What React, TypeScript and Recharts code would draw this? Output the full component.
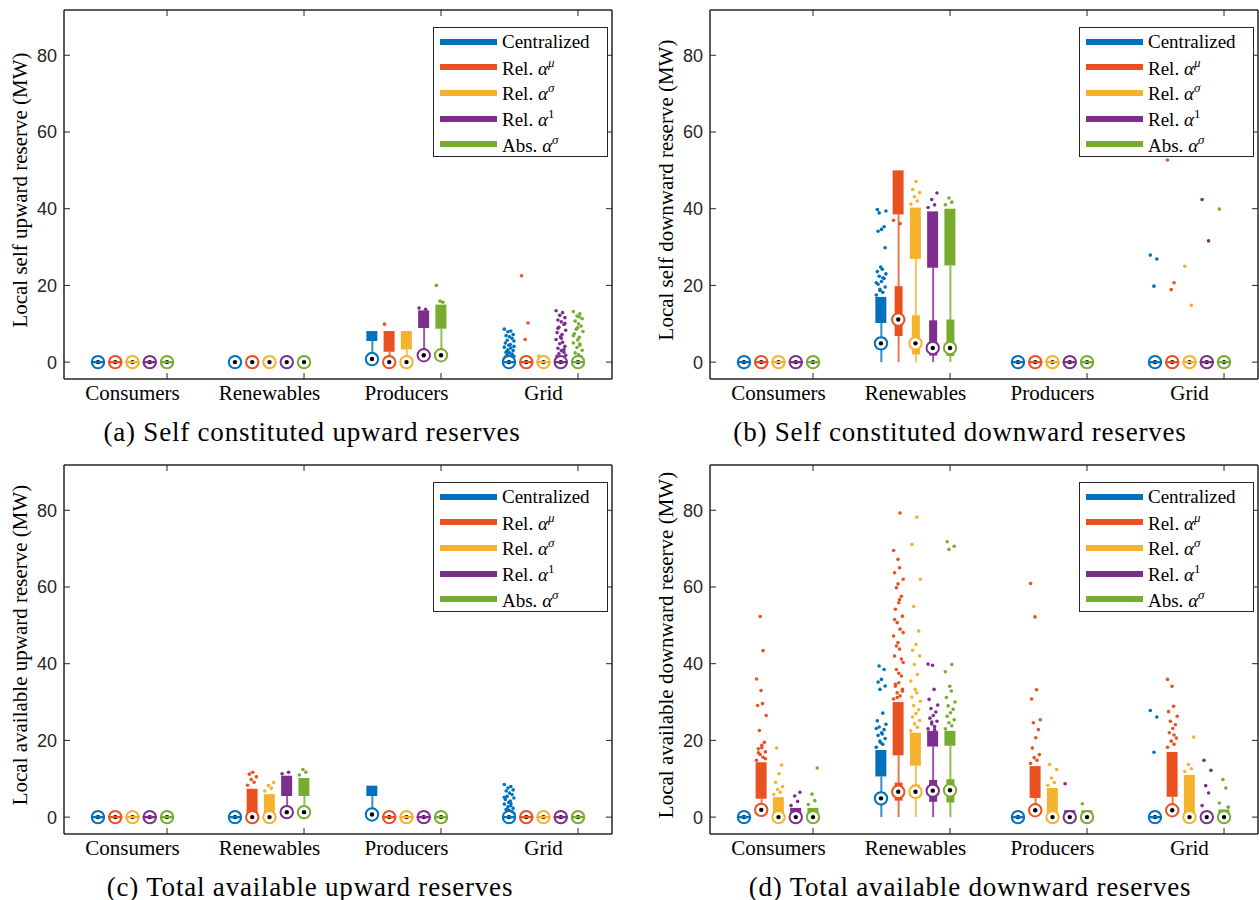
import React from "react";
import { ComposedChart, Bar, Scatter, XAxis, YAxis, Cell, ReferenceArea } from "recharts";

type Range = [number, number] | null;
const N = null;
const Z: Range = [0, 0]; // band of jittered points sitting at zero

const CATEGORIES = ["Consumers", "Renewables", "Producers", "Grid"];
const SERIES_NAMES = ["Centralized", "Rel.", "Rel.", "Rel.", "Abs."];
const SERIES_SUP = ["", "μ", "σ", "1", "σ"];
const COLORS = ["#0072BD", "#EA5120", "#F5B22C", "#7E2F8E", "#77AC30"];
const Y_TICKS = [0, 20, 40, 60, 80];

// (a) self constituted upward reserves  [series][category]
const A_MEDIAN = [
  [0, 0, 0.8, 0],
  [0, 0, 0, 0],
  [0, 0, 0, 0],
  [0, 0, 1.8, 0],
  [0, 0, 1.8, 0],
];
const A_BOX: Range[][] = [
  [N, N, N, N],
  [N, N, N, N],
  [N, N, N, N],
  [N, N, N, N],
  [N, N, N, N],
];
const A_WHISKER: Range[][] = [
  [N, N, [0.8, 5.5], N],
  [N, N, [0, 2.7], N],
  [N, N, [0, 3.3], N],
  [N, N, [1.8, 8.9], N],
  [N, N, [1.8, 8.7], N],
];
const A_DENSE: Range[][] = [
  [Z, N, [5.5, 8.1], Z],
  [Z, N, [2.7, 8.1], Z],
  [Z, N, [3.3, 8.1], Z],
  [Z, N, [8.9, 13.5], Z],
  [Z, N, [8.7, 15.0], Z],
];
const A_OUTLIERS: number[][][] = [
  [[], [], [], [8.6, 8.1, 7.9, 7.2, 6.9, 6.6, 6.2, 5.7, 5.5, 5.0, 4.6, 4.4, 3.9, 3.7, 3.2, 3.0, 2.6, 2.4, 2.1, 1.9, 1.5, 1.3, 1.1, 0.9, 0.8, 0.6, 0.5, 0.4, 0.3, 0.2, 1.7, 2.9, 4.1]],
  [[], [], [9.9], [22.5, 10.2, 5.9]],
  [[], [], [], [1.6]],
  [[], [], [14.1, 13.8], [13.4, 12.9, 12.2, 11.6, 11.0, 10.5, 9.8, 9.1, 8.3, 7.7, 7.2, 6.6, 5.9, 5.2, 4.8, 4.1, 3.6, 3.0, 2.6, 2.2, 1.8, 1.5, 1.2, 0.9, 0.7, 0.5, 0.3, 10.1, 8.8, 6.2, 3.3]],
  [[], [], [20.0, 15.6, 15.9], [13.2, 12.6, 12.0, 11.3, 10.7, 10.0, 9.4, 8.6, 8.0, 7.4, 6.5, 5.8, 5.0, 4.4, 3.8, 3.1, 2.4, 1.9, 1.4, 1.0, 0.6, 0.4, 11.8, 9.0, 6.9, 4.7]],
];

// (b) self constituted downward reserves
const B_MEDIAN = [
  [0, 4.9, 0, 0],
  [0, 11.1, 0, 0],
  [0, 4.9, 0, 0],
  [0, 3.7, 0, 0],
  [0, 3.7, 0, 0],
];
const B_BOX: Range[][] = [
  [N, [3.5, 6.5], N, N],
  [N, [6.8, 19.8], N, N],
  [N, [2.0, 12.2], N, N],
  [N, [1.7, 10.9], N, N],
  [N, [1.6, 11.1], N, N],
];
const B_WHISKER: Range[][] = [
  [N, [0, 10.2], N, N],
  [N, [0, 38.5], N, N],
  [N, [0, 26.9], N, N],
  [N, [0, 24.6], N, N],
  [N, [0, 25.2], N, N],
];
const B_DENSE: Range[][] = [
  [Z, [10.2, 17.0], Z, Z],
  [Z, [38.5, 50.0], Z, Z],
  [Z, [26.9, 40.3], Z, Z],
  [Z, [24.6, 39.3], Z, Z],
  [Z, [25.2, 40.0], Z, Z],
];
const B_OUTLIERS: number[][][] = [
  [[], [17.5, 18.2, 19.0, 19.6, 20.3, 21.0, 21.8, 22.4, 23.0, 23.6, 24.2, 24.8, 20.7, 22.0, 18.7, 29.8, 34.1, 34.6, 35.3, 38.9, 39.4, 39.8], [], [27.9, 26.9, 19.8]],
  [[], [37.0, 36.1], [], [52.7, 20.7, 18.9]],
  [[], [41.2, 42.0, 43.1, 44.2, 45.0, 47.1], [], [25.0, 14.8]],
  [[], [40.3, 41.0, 42.4, 44.1], [], [42.4, 31.6]],
  [[], [41.0, 41.7, 42.8], [], [39.9]],
];

// (c) total available upward reserves
const C_MEDIAN = [
  [0, 0, 0.7, 0],
  [0, 0, 0, 0],
  [0, 0, 0, 0],
  [0, 1.3, 0, 0],
  [0, 1.3, 0, 0],
];
const C_BOX: Range[][] = [
  [N, N, N, N],
  [N, N, N, N],
  [N, N, N, N],
  [N, N, N, N],
  [N, N, N, N],
];
const C_WHISKER: Range[][] = [
  [N, N, [0.7, 5.5], N],
  [N, N, N, N],
  [N, N, N, N],
  [N, [1.3, 5.5], N, N],
  [N, [1.3, 5.5], N, N],
];
const C_DENSE: Range[][] = [
  [Z, Z, [5.5, 8.2], Z],
  [Z, [0.9, 7.4], Z, Z],
  [Z, [0.9, 6.0], Z, Z],
  [Z, [5.5, 10.8], Z, Z],
  [Z, [5.5, 10.2], Z, Z],
];
const C_OUTLIERS: number[][][] = [
  [[], [], [], [8.5, 8.0, 7.6, 7.1, 6.8, 6.3, 5.9, 5.4, 5.0, 4.6, 4.2, 3.8, 3.4, 3.0, 2.7, 2.3, 2.0, 1.7, 1.4, 1.1, 0.9, 0.6, 0.4, 0.3, 5.2, 3.6, 1.9]],
  [[], [8.3, 9.1, 9.8, 10.5, 11.2, 11.7], [], []],
  [[], [6.8, 7.5, 8.2, 9.0], [], []],
  [[], [11.3, 11.7], [], []],
  [[], [11.0, 11.7, 12.4], [], []],
];

// (d) total available downward reserves
const D_MEDIAN = [
  [0, 4.9, 0, 0],
  [1.9, 6.6, 1.8, 1.8],
  [0, 6.6, 0, 0],
  [0, 6.9, 0, 0],
  [0, 7.0, 0, 0],
];
const D_BOX: Range[][] = [
  [N, [3.5, 6.5], N, N],
  [N, [4.3, 9.0], N, N],
  [N, [5.0, 8.5], N, N],
  [N, [4.0, 9.7], N, N],
  [N, [3.8, 9.9], N, N],
];
const D_WHISKER: Range[][] = [
  [N, [0, 10.6], N, N],
  [[1.9, 4.8], [0, 16.1], [1.8, 5.0], [1.8, 5.3]],
  [N, [0, 13.4], N, N],
  [N, [0, 18.4], N, N],
  [N, [0, 18.6], N, N],
];
const D_DENSE: Range[][] = [
  [Z, [10.6, 17.5], Z, Z],
  [[4.8, 14.3], [16.1, 30.0], [5.0, 13.3], [5.3, 17.0]],
  [[0.5, 5.2], [13.4, 22.0], [0.5, 7.6], [0.5, 11.0]],
  [[0, 2.4], [18.4, 22.5], [0, 1.8], [0, 1.2]],
  [[0, 2.4], [18.6, 22.5], [0, 1.8], [0, 2.0]],
];
const D_OUTLIERS: number[][][] = [
  [[], [18.2, 19.0, 19.8, 20.5, 21.3, 22.0, 22.8, 23.5, 24.2, 25.1, 21.7, 19.4, 23.1, 27.1, 33.3, 34.2, 35.2, 35.9, 38.5, 39.4], [], [27.8, 26.1, 16.9]],
  [
    [14.8, 15.6, 16.3, 17.0, 17.8, 18.7, 19.5, 22.6, 26.5, 29.1, 29.6, 33.0, 36.0, 43.4, 52.3, 15.2, 16.8, 18.1],
    [30.8, 31.6, 32.4, 33.3, 34.1, 35.0, 36.8, 38.5, 40.3, 42.0, 43.8, 45.5, 47.2, 49.0, 50.7, 52.4, 54.2, 55.9, 57.6, 59.8, 62.0, 63.7, 65.0, 67.2, 69.5, 79.3, 31.2, 32.8, 34.6, 37.5, 41.2, 44.6, 48.1, 51.5, 56.7, 60.8],
    [14.0, 14.8, 15.5, 16.3, 18.0, 20.7, 22.8, 24.6, 25.4, 30.8, 33.2, 52.2, 60.9],
    [18.2, 19.0, 19.8, 20.6, 22.0, 23.1, 24.1, 25.0, 26.3, 27.5, 28.9, 34.1, 35.9, 21.4],
  ],
  [
    [5.9, 6.5, 7.2, 8.0, 9.1, 11.3, 13.6, 18.0],
    [22.5, 23.4, 24.3, 25.2, 26.1, 27.0, 28.0, 29.1, 30.2, 31.3, 32.4, 33.3, 35.5, 37.2, 39.8, 42.0, 43.5, 45.0, 48.5, 54.9, 62.0, 71.1, 78.2],
    [8.3, 9.0, 10.2, 12.4, 13.7],
    [11.9, 12.6, 13.7, 20.9],
  ],
  [
    [3.0, 4.1, 5.5, 6.5],
    [23.0, 23.6, 24.3, 25.0, 25.8, 26.5, 27.4, 28.3, 29.2, 30.7, 33.3, 39.6, 39.9, 22.8, 24.8],
    [8.7],
    [3.0, 6.3, 8.2, 12.2, 14.8],
  ],
  [
    [3.3, 4.3, 6.0, 12.8],
    [23.0, 23.8, 24.6, 25.4, 26.3, 27.2, 28.1, 29.0, 30.0, 31.2, 32.9, 34.1, 37.9, 39.8, 69.8, 70.6, 71.8],
    [3.5],
    [3.7, 7.6, 9.8, 2.6],
  ],
];

const Y_LABELS = [
  "Local self upward reserve (MW)",
  "Local self downward reserve (MW)",
  "Local available upward reserve (MW)",
  "Local available downward reserve (MW)",
];
const CAPTIONS = [
  "(a) Self constituted upward reserves",
  "(b) Self constituted downward reserves",
  "(c) Total available upward reserves",
  "(d) Total available downward reserves",
];

// layout
const PLOT_W = 548;
const PLOT_H = 370;
const PLOT_POS = [
  [64, 10],
  [710, 10],
  [64, 465],
  [710, 465],
];
const CAPTION_X = [312, 960, 310, 970];
const X_DOMAIN: [number, number] = [0.5, 4.5];
const Y_DOMAIN: [number, number] = [-4.4, 91.8];
const SLOT = 0.126;
const LABEL_SHIFT = (2 * SLOT * PLOT_W) / (X_DOMAIN[1] - X_DOMAIN[0]);
const JITTER = [-0.9, 0.35, -0.2, 0.8, -0.55, 0.1, 0.6, -0.35, 0.95, -0.7, 0.25, -0.05];
const JITTER_W = 0.038;
const AXIS_COLOR = "#262626";
const SANS = "'Liberation Sans', Arial, sans-serif";
const SERIF = "'Liberation Serif', 'Times New Roman', serif";

const PANELS = [
  { median: A_MEDIAN, box: A_BOX, whisker: A_WHISKER, dense: A_DENSE, outliers: A_OUTLIERS },
  { median: B_MEDIAN, box: B_BOX, whisker: B_WHISKER, dense: B_DENSE, outliers: B_OUTLIERS },
  { median: C_MEDIAN, box: C_BOX, whisker: C_WHISKER, dense: C_DENSE, outliers: C_OUTLIERS },
  { median: D_MEDIAN, box: D_BOX, whisker: D_WHISKER, dense: D_DENSE, outliers: D_OUTLIERS },
];

type Panel = (typeof PANELS)[number];

function slotRows(p: Panel) {
  const rows: any[] = [];
  CATEGORIES.forEach((_, c) => {
    SERIES_NAMES.forEach((_, s) => {
      const d = p.dense[s][c];
      rows.push({
        x: c + 1 + (s - 2) * SLOT,
        y: p.median[s][c],
        s,
        box: p.box[s][c],
        whisker: p.whisker[s][c],
        dense: d && d[1] > d[0] ? d : null,
        band: !!d && d[1] === d[0],
      });
    });
  });
  return rows;
}

function outlierRows(p: Panel, s: number) {
  const rows: { x: number; y: number }[] = [];
  p.outliers[s].forEach((vals, c) => {
    vals.forEach((v, k) => {
      rows.push({ x: c + 1 + (s - 2) * SLOT + JITTER[k % JITTER.length] * JITTER_W, y: v });
    });
  });
  return rows;
}

const OutlierDot = (props: any) => {
  if (props.cx == null || props.cy == null) return <g />;
  return <circle cx={props.cx} cy={props.cy} r={1.8} fill={props.fill} />;
};

const MedianMark = (props: any) => {
  const { cx, cy, payload } = props;
  if (cx == null || cy == null) return <g />;
  const col = COLORS[payload.s];
  return (
    <g>
      <circle cx={cx} cy={cy} r={6.2} fill="#ffffff" stroke={col} strokeWidth={2} />
      <circle cx={cx} cy={cy} r={2.2} fill="#000000" />
      {payload.band && (
        <line x1={cx - 7} x2={cx + 7} y1={cy} y2={cy} stroke={col} strokeWidth={2.4} />
      )}
    </g>
  );
};

// category label sits under the group centre, tick mark under the last box
const CategoryTick = (props: any) => {
  const { x, y, index } = props;
  return (
    <text
      x={x - LABEL_SHIFT}
      y={y}
      dy="0.71em"
      textAnchor="middle"
      fill="#000"
      fontSize={21}
      fontFamily={SERIF}
    >
      {CATEGORIES[index]}
    </text>
  );
};

function Legend({ right, top }: { right: number; top: number }) {
  return (
    <div
      style={{
        position: "absolute",
        left: right - 179,
        top: top + 17,
        width: 175,
        height: 130,
        border: `1px solid ${AXIS_COLOR}`,
        background: "#fff",
        boxSizing: "border-box",
        paddingTop: 1,
        fontFamily: SERIF,
        fontSize: 19,
        color: "#000",
      }}
    >
      {SERIES_NAMES.map((name, s) => (
        <div key={s} style={{ display: "flex", alignItems: "center", height: 25.6 }}>
          <div style={{ width: 57, height: 6, background: COLORS[s], marginLeft: 6, marginRight: 5 }} />
          <span style={{ whiteSpace: "nowrap" }}>
            {name}
            {SERIES_SUP[s] && (
              <>
                {" "}
                <i>α</i>
                <sup style={{ fontSize: 13, fontStyle: SERIES_SUP[s] === "1" ? "normal" : "italic", verticalAlign: 8 }}>
                  {SERIES_SUP[s]}
                </sup>
              </>
            )}
          </span>
        </div>
      ))}
    </div>
  );
}

function PanelChart({ idx }: { idx: number }) {
  const p = PANELS[idx];
  const [left, top] = PLOT_POS[idx];
  const rows = slotRows(p);
  const chartW = PLOT_W + 64 + 12;
  const chartH = PLOT_H + 10 + 70;
  const markTicks = CATEGORIES.map((_, c) => c + 1 + 2 * SLOT);
  const blank = () => "";
  return (
    <>
      <div style={{ position: "absolute", left: left - 64, top: top - 10 }}>
        <ComposedChart
          width={chartW}
          height={chartH}
          data={rows}
          margin={{ top: 9, right: 11, bottom: 40, left: 0 }}
        >
          <XAxis
            xAxisId="a0"
            type="number"
            dataKey="x"
            domain={X_DOMAIN}
            allowDataOverflow
            ticks={markTicks}
            interval={0}
            tickSize={-6}
            tickMargin={12}
            height={31}
            stroke={AXIS_COLOR}
            tick={CategoryTick}
          />
          <XAxis
            xAxisId="a1"
            orientation="top"
            type="number"
            dataKey="x"
            domain={X_DOMAIN}
            allowDataOverflow
            ticks={markTicks}
            tickFormatter={blank}
            tickSize={-6}
            height={1}
            stroke={AXIS_COLOR}
          />
          <XAxis xAxisId="zw" type="number" dataKey="x" domain={X_DOMAIN} allowDataOverflow hide />
          <XAxis xAxisId="zx" type="number" dataKey="x" domain={X_DOMAIN} allowDataOverflow hide />
          <XAxis xAxisId="zy" type="number" dataKey="x" domain={X_DOMAIN} allowDataOverflow hide />
          <YAxis
            yAxisId="L"
            type="number"
            dataKey="y"
            domain={Y_DOMAIN}
            allowDataOverflow
            ticks={Y_TICKS}
            width={64}
            tickSize={-6}
            tickMargin={13}
            stroke={AXIS_COLOR}
            tick={{ fill: AXIS_COLOR, fontSize: 18, fontFamily: SANS }}
          />
          <YAxis
            yAxisId="R"
            orientation="right"
            type="number"
            domain={Y_DOMAIN}
            allowDataOverflow
            ticks={Y_TICKS}
            width={1}
            tickSize={-6}
            tickFormatter={blank}
            stroke={AXIS_COLOR}
          />
          <ReferenceArea
            xAxisId="a0"
            yAxisId="L"
            x1={X_DOMAIN[0]}
            x2={X_DOMAIN[1]}
            y1={Y_DOMAIN[0]}
            y2={Y_DOMAIN[1]}
            fill="none"
            fillOpacity={0}
            stroke={AXIS_COLOR}
            strokeWidth={1}
          />
          <Bar xAxisId="zw" yAxisId="L" dataKey="whisker" barSize={2} isAnimationActive={false}>
            {rows.map((r, i) => (
              <Cell key={i} fill={COLORS[r.s]} fillOpacity={0.8} />
            ))}
          </Bar>
          <Bar xAxisId="zx" yAxisId="L" dataKey="box" barSize={8} isAnimationActive={false}>
            {rows.map((r, i) => (
              <Cell key={i} fill={COLORS[r.s]} />
            ))}
          </Bar>
          <Bar xAxisId="zy" yAxisId="L" dataKey="dense" barSize={11} isAnimationActive={false}>
            {rows.map((r, i) => (
              <Cell key={i} fill={COLORS[r.s]} />
            ))}
          </Bar>
          {SERIES_NAMES.map((_, s) => (
            <Scatter
              key={s}
              xAxisId="a0"
              yAxisId="L"
              data={outlierRows(p, s)}
              fill={COLORS[s]}
              shape={OutlierDot}
              isAnimationActive={false}
            />
          ))}
          <Scatter xAxisId="a0" yAxisId="L" data={rows} shape={MedianMark} isAnimationActive={false} />
        </ComposedChart>
      </div>
      <Legend right={left + PLOT_W} top={top} />
      <div
        style={{
          position: "absolute",
          left: left - 44,
          top: top + PLOT_H / 2 - 5,
          transform: "translate(-50%, -50%) rotate(-90deg)",
          whiteSpace: "nowrap",
          fontFamily: SERIF,
          fontSize: 21,
          color: "#000",
        }}
      >
        {Y_LABELS[idx]}
      </div>
      <div
        style={{
          position: "absolute",
          left: CAPTION_X[idx],
          top: top + PLOT_H + 52,
          transform: "translate(-50%, -50%)",
          whiteSpace: "nowrap",
          fontFamily: SERIF,
          fontSize: 27,
          letterSpacing: 0.8,
          color: "#000",
        }}
      >
        {CAPTIONS[idx]}
      </div>
    </>
  );
}

export default function App() {
  return (
    <div
      style={{
        position: "absolute",
        left: 0,
        top: 0,
        width: 1259,
        height: 900,
        background: "#ffffff",
        overflow: "hidden",
      }}
    >
      {PANELS.map((_, i) => (
        <PanelChart key={i} idx={i} />
      ))}
    </div>
  );
}
